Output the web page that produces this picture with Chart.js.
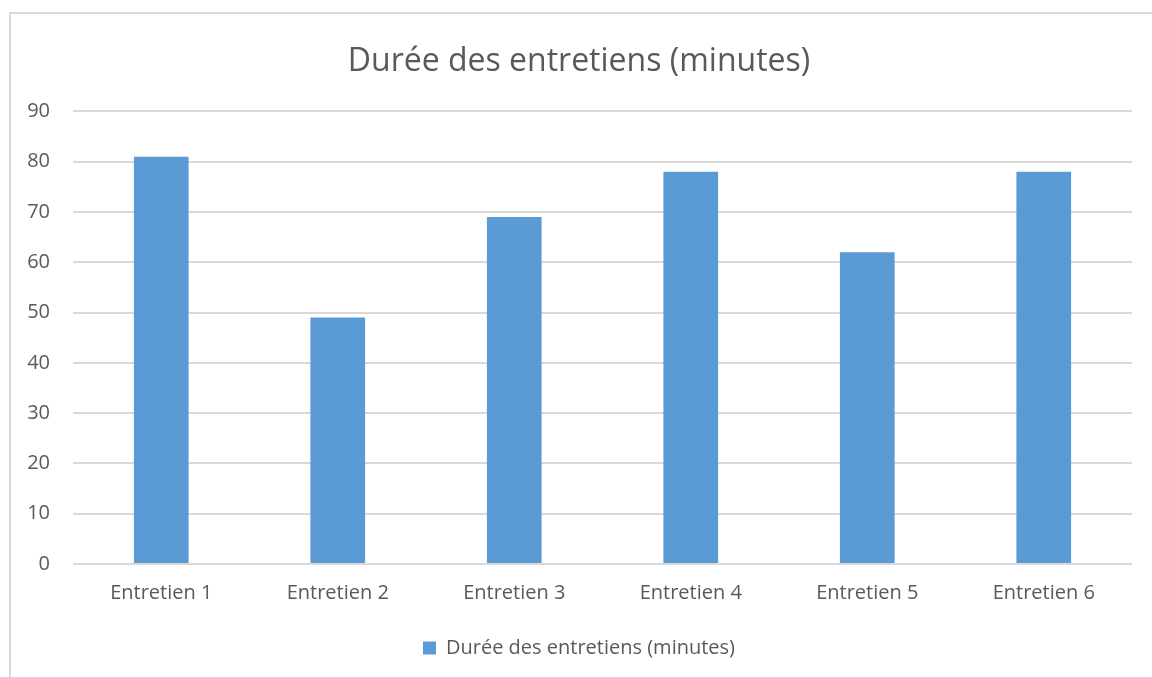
<!DOCTYPE html>
<html>
<head>
<meta charset="utf-8">
<script src="https://cdn.jsdelivr.net/npm/chart.js@4/dist/chart.umd.min.js"></script>
<style>
  html, body { margin: 0; padding: 0; background: #fff; }
  #wrap { position: relative; width: 1152px; height: 677px; }
</style>
</head>
<body>
<div id="wrap"><canvas id="chart"></canvas></div>
<script>
// chart data
const categories = ['Entretien 1', 'Entretien 2', 'Entretien 3', 'Entretien 4', 'Entretien 5', 'Entretien 6'];
const durations = [81, 49, 69, 78, 62, 78];
const seriesName = 'Durée des entretiens (minutes)';
const yTicks = [0, 10, 20, 30, 40, 50, 60, 70, 80, 90];

const textColor = '#595959';
const fontFamily = '"Open Sans", sans-serif';

// light frame around the chart, like the office export
const framePlugin = {
    id: 'frame',
    beforeDraw(chart) {
        const ctx = chart.ctx;
        ctx.save();
        ctx.fillStyle = '#fff';
        ctx.fillRect(0, 0, chart.width, chart.height);
        ctx.strokeStyle = '#d9d9d9';
        ctx.lineWidth = 2;
        ctx.beginPath();
        ctx.moveTo(10, chart.height + 5);
        ctx.lineTo(10, 13);
        ctx.lineTo(chart.width + 5, 13);
        ctx.stroke();
        ctx.restore();
    }
};

new Chart(document.getElementById('chart'), {
    type: 'bar',
    data: {
        labels: categories,
        datasets: [{
            label: seriesName,
            data: durations,
            backgroundColor: '#5B9BD5',
            barPercentage: 0.31,
            categoryPercentage: 1
        }]
    },
    options: {
        responsive: true,
        maintainAspectRatio: false,
        animation: false,
        layout: { padding: { left: 26, right: 20, top: 0, bottom: 9 } },
        plugins: {
            title: {
                display: true,
                text: seriesName,
                color: textColor,
                font: { family: fontFamily, size: 32, weight: 'normal' },
                padding: { top: 43, bottom: 30 }
            },
            legend: {
                position: 'bottom',
                labels: {
                    color: textColor,
                    font: { family: fontFamily, size: 20 },
                    boxWidth: 13,
                    boxHeight: 13,
                    padding: 8
                }
            },
            tooltip: { enabled: false }
        },
        scales: {
            x: {
                grid: { display: false, drawTicks: false },
                border: { display: false },
                ticks: {
                    color: textColor,
                    font: { family: fontFamily, size: 20 },
                    padding: 17,
                    maxRotation: 0
                },
                afterFit(scale) { scale.height = 66; }
            },
            y: {
                min: 0,
                max: 90,
                afterBuildTicks(scale) { scale.ticks = yTicks.map(v => ({ value: v })); },
                grid: { color: '#d9d9d9', lineWidth: 2, drawTicks: false },
                border: { display: false },
                ticks: {
                    color: textColor,
                    font: { family: fontFamily, size: 20 },
                    padding: 23
                },
                afterFit(scale) { scale.width = 47; }
            }
        }
    },
    plugins: [framePlugin]
});
</script>
</body>
</html>
